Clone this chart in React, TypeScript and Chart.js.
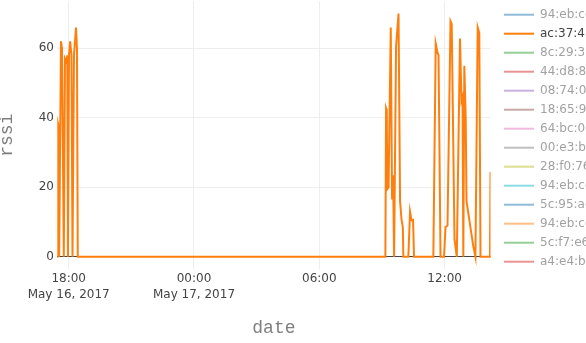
import { useEffect, useRef } from 'react';
import { Chart, registerables } from 'chart.js';

Chart.register(...registerables);

// ---- data ----
const SERIES_LABELS = [
  '94:eb:cd:4a:12:0f',
  'ac:37:43:8e:5b:21',
  '8c:29:37:c1:9a:44',
  '44:d8:84:2f:60:1d',
  '08:74:02:b5:3e:97',
  '18:65:90:7c:d2:0a',
  '64:bc:0c:56:e1:38',
  '00:e3:b2:19:4f:c6',
  '28:f0:76:a3:8d:52',
  '94:eb:cd:0b:77:e4',
  '5c:95:ae:61:2c:f9',
  '94:eb:cd:3d:90:1b',
  '5c:f7:e6:8a:45:70',
  'a4:e4:b8:d2:13:6e',
];
const SERIES_COLORS = [
  '#1f77b4', '#ff7f0e', '#2ca02c', '#d62728', '#9467bd', '#8c564b', '#e377c2',
  '#7f7f7f', '#bcbd22', '#17becf', '#1f77b4', '#ff7f0e', '#2ca02c', '#d62728',
];
const VISIBLE_SERIES = 1;

const TIMES = [
  '2017-05-16T17:27:18', '2017-05-16T17:28:06', '2017-05-16T17:30:42', '2017-05-16T17:32:42',
  '2017-05-16T17:37:54', '2017-05-16T17:40:48', '2017-05-16T17:46:00', '2017-05-16T17:49:24',
  '2017-05-16T17:53:42', '2017-05-16T17:56:00', '2017-05-16T17:58:00', '2017-05-16T18:00:54',
  '2017-05-16T18:04:18', '2017-05-16T18:08:00', '2017-05-16T18:11:00', '2017-05-16T18:15:12',
  '2017-05-16T18:21:00', '2017-05-16T18:23:48', '2017-05-16T18:26:06',
  '2017-05-17T09:09:48', '2017-05-17T09:11:48', '2017-05-17T09:13:48', '2017-05-17T09:15:12',
  '2017-05-17T09:18:54', '2017-05-17T09:25:18', '2017-05-17T09:29:00', '2017-05-17T09:31:54',
  '2017-05-17T09:34:48', '2017-05-17T09:40:30', '2017-05-17T09:47:36', '2017-05-17T09:52:00',
  '2017-05-17T09:56:18', '2017-05-17T10:00:00', '2017-05-17T10:01:24', '2017-05-17T10:15:48',
  '2017-05-17T10:20:42', '2017-05-17T10:25:00', '2017-05-17T10:29:18', '2017-05-17T10:32:06',
  '2017-05-17T11:27:36', '2017-05-17T11:34:24', '2017-05-17T11:40:12', '2017-05-17T11:42:30',
  '2017-05-17T11:48:12', '2017-05-17T11:58:18', '2017-05-17T12:02:36', '2017-05-17T12:08:18',
  '2017-05-17T12:16:54', '2017-05-17T12:20:24', '2017-05-17T12:28:24', '2017-05-17T12:35:00',
  '2017-05-17T12:44:12', '2017-05-17T12:48:30', '2017-05-17T12:51:24', '2017-05-17T12:53:42',
  '2017-05-17T12:56:36', '2017-05-17T13:00:36', '2017-05-17T13:02:54', '2017-05-17T13:22:24',
  '2017-05-17T13:28:30', '2017-05-17T13:35:00', '2017-05-17T13:39:36', '2017-05-17T13:43:06',
  '2017-05-17T14:10:18', '2017-05-17T14:11:48',
];
const RSSI = [
  0, 39, 38, 0,
  62, 60, 0, 57,
  56, 58, 0, 58,
  62, 58, 0, 58,
  66, 60, 0,
  0, 42.7, 42, 19.5,
  20, 66, 16.5, 23.5,
  0, 60.5, 70, 16,
  10.6, 8.5, 0, 0,
  13, 10.5, 10.6, 0,
  0, 61.4, 58.5, 58,
  0, 0, 8.6, 9,
  67.8, 67, 5, 0,
  62.8, 45, 46, 0,
  55, 40, 16, 3,
  0, 66, 64.4, 0,
  0, 24.5,
];

const Y_TICKS = [0, 20, 40, 60];
const Y_RANGE = [-3.5, 73.5];
const X_TICK_TIMES = ['2017-05-16T18:00:00', '2017-05-17T00:00:00', '2017-05-17T06:00:00', '2017-05-17T12:00:00'];
const X_TICK_LABELS = [['18:00', 'May 16, 2017'], ['00:00', 'May 17, 2017'], ['06:00'], ['12:00']];
const X_TITLE = 'date';
const Y_TITLE = 'rssi';

const toMs = (s: string) => Date.parse(s + 'Z');

const FONT = '"DejaVu Sans", Verdana, sans-serif';
const TITLE_FONT = '"Liberation Mono", "Courier New", monospace';

const legendPlugin = {
  id: 'plotlyLegend',
  afterDraw(chart: any) {
    const { ctx, chartArea } = chart;
    const x0 = chartArea.right + 13.5;
    ctx.save();
    ctx.font = `12px ${FONT}`;
    ctx.textBaseline = 'middle';
    ctx.textAlign = 'left';
    chart.data.datasets.forEach((ds: any, i: number) => {
      const y = chartArea.top + 13.3 + i * 19;
      ctx.globalAlpha = ds.hidden ? 0.5 : 1;
      ctx.strokeStyle = ds.borderColor;
      ctx.lineWidth = 2;
      ctx.beginPath();
      ctx.moveTo(x0, y);
      ctx.lineTo(x0 + 30, y);
      ctx.stroke();
      ctx.fillStyle = '#444';
      ctx.fillText(ds.label, x0 + 36, y);
    });
    ctx.restore();
  },
};

export default function App() {
  const ref = useRef<HTMLCanvasElement>(null);

  useEffect(() => {
    document.body.style.margin = '0';
    const canvas = ref.current;
    if (!canvas) return;
    const times = TIMES.map(toMs);
    const points = times.map((t, i) => ({ x: t, y: RSSI[i] }));
    const datasets = SERIES_LABELS.map((label, i) => ({
      label,
      data: i === VISIBLE_SERIES ? points : [],
      hidden: i !== VISIBLE_SERIES,
      borderColor: SERIES_COLORS[i],
      backgroundColor: SERIES_COLORS[i],
      borderWidth: 2,
      pointRadius: 0,
      tension: 0,
      fill: false,
    }));
    const xTicks = X_TICK_TIMES.map(toMs);

    const chart = new Chart(canvas, {
      type: 'line',
      data: { datasets },
      plugins: [legendPlugin],
      options: {
        animation: false,
        responsive: false,
        devicePixelRatio: 1,
        layout: { padding: { left: 0, right: 95.5, top: 1.4, bottom: 0 } },
        plugins: { legend: { display: false }, tooltip: { enabled: false } },
        scales: {
          x: {
            type: 'linear',
            min: times[0],
            max: times[times.length - 1],
            border: { display: false },
            grid: { color: '#eee', lineWidth: 1, drawTicks: false },
            afterBuildTicks: (scale: any) => {
              scale.ticks = xTicks.map((v) => ({ value: v }));
            },
            afterFit: (scale: any) => {
              scale.height = 74;
              scale.paddingLeft = 0;
              scale.paddingRight = 0;
            },
            ticks: {
              autoSkip: false,
              maxRotation: 0,
              padding: 2.3,
              color: '#444',
              font: { family: FONT, size: 12, lineHeight: 1.33 },
              callback: (_v: any, i: number) => X_TICK_LABELS[i],
            },
            title: {
              display: true,
              text: X_TITLE,
              color: '#7f7f7f',
              font: { family: TITLE_FONT, size: 18, lineHeight: 1.2 },
              padding: { top: 0, bottom: 3.9 },
            },
          },
          y: {
            type: 'linear',
            min: Y_RANGE[0],
            max: Y_RANGE[1],
            border: { display: false },
            grid: {
              drawTicks: false,
              lineWidth: 1,
              color: (c: any) => (c.tick && c.tick.value === 0 ? '#444' : '#eee'),
            },
            afterBuildTicks: (scale: any) => {
              scale.ticks = Y_TICKS.map((v) => ({ value: v }));
            },
            afterFit: (scale: any) => {
              scale.width = 57.3;
              scale.paddingTop = 0;
              scale.paddingBottom = 0;
            },
            ticks: {
              padding: 3.3,
              color: '#444',
              font: { family: FONT, size: 12 },
              callback: (v: any) => String(v),
            },
            title: {
              display: true,
              text: Y_TITLE,
              color: '#7f7f7f',
              font: { family: TITLE_FONT, size: 18, lineHeight: 0.83 },
              padding: { top: 0, bottom: 0 },
            },
          },
        },
      } as any,
    });
    return () => chart.destroy();
  }, []);

  return (
    <div style={{ width: 586, height: 343, overflow: 'hidden', background: '#fff' }}>
      <canvas ref={ref} width={586} height={343} style={{ display: 'block' }} />
    </div>
  );
}
